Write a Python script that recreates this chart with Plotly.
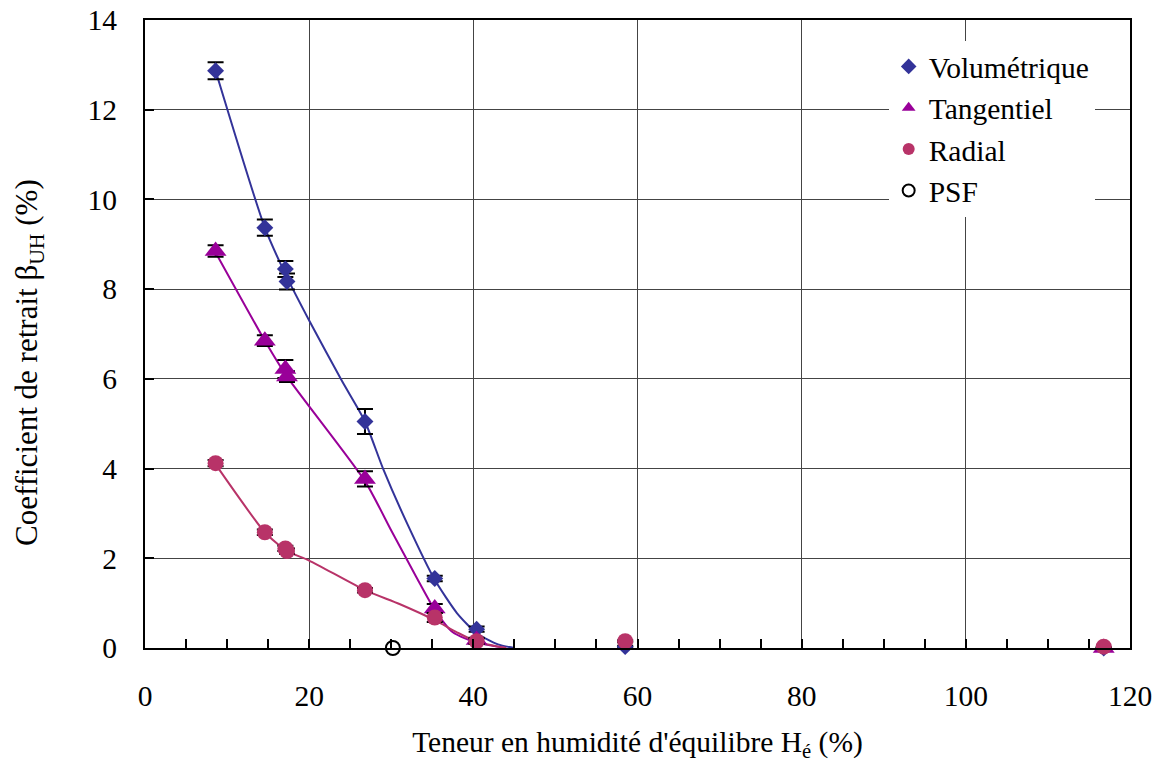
import plotly.graph_objects as go

# Teneur en humidité d'équilibre (%) des éprouvettes
h_eq = [8.6, 14.6, 17.1, 17.3, 26.8, 35.3, 40.4, 58.5, 116.8]

# Coefficients de retrait mesurés (%) et écarts-types
vol = [12.87, 9.37, 8.45, 8.17, 5.05, 1.55, 0.42, 0.03, 0.0]
vol_err = [0.19, 0.18, 0.18, 0.18, 0.28, 0.06, 0.06, 0.02, 0.0]

tan = [8.85, 6.85, 6.22, 6.05, 3.77, 0.88, 0.18, None, 0.0]
tan_err = [0.13, 0.12, 0.2, 0.12, 0.17, 0.1, 0.05, 0.0, 0.0]

rad = [4.12, 2.58, 2.22, 2.16, 1.29, 0.68, 0.15, 0.15, 0.03]
rad_err = [0.07, 0.06, 0.06, 0.06, 0.05, 0.1, 0.06, 0.02, 0.0]

# Point de saturation des fibres
psf_x = [30.2]
psf_y = [0.0]

# Courbes d'ajustement (noeuds)
vol_fit_x = [8.6, 14.6, 17.2, 20.0, 24.0, 26.8, 29.0, 32.0, 35.3, 38.0, 40.4, 43.0, 45.0]
vol_fit_y = [12.87, 9.37, 8.3, 7.3, 5.95, 5.05, 4.0, 2.75, 1.52, 0.78, 0.33, 0.08, 0.0]

tan_fit_x = [8.5, 14.6, 17.3, 26.8, 30.0, 33.0, 35.3, 37.5, 40.4, 44.0]
tan_fit_y = [8.85, 6.85, 6.05, 3.72, 2.62, 1.6, 0.85, 0.35, 0.12, 0.0]

rad_fit_x = [8.5, 14.6, 17.2, 20.0, 26.8, 31.0, 35.3, 38.0, 40.4, 44.0]
rad_fit_y = [4.12, 2.58, 2.17, 1.95, 1.29, 0.98, 0.62, 0.35, 0.14, 0.0]

C_VOL = "#333399"
C_TAN = "#990099"
C_RAD = "#b83368"
FONT = "'Times New Roman', 'Liberation Serif', serif"
FS = 29.5

fig = go.Figure()

for fx, fy, col in [(vol_fit_x, vol_fit_y, C_VOL),
                    (tan_fit_x, tan_fit_y, C_TAN),
                    (rad_fit_x, rad_fit_y, C_RAD)]:
    fig.add_trace(go.Scatter(
        x=fx, y=fy, mode="lines", showlegend=False, hoverinfo="skip",
        line=dict(color=col, width=2, shape="spline", smoothing=0.6),
    ))

series = [
    ("Volumétrique", vol, vol_err, "diamond", C_VOL, 13),
    ("Tangentiel", tan, tan_err, "triangle-up", C_TAN, 19),
    ("Radial", rad, rad_err, "circle", C_RAD, 16),
]
for name, ys, errs, sym, col, sz in series:
    fig.add_trace(go.Scatter(
        x=h_eq, y=ys, mode="markers", name=name, cliponaxis=False,
        marker=dict(symbol=sym, size=sz, color=col, line=dict(width=0)),
        error_y=dict(type="data", array=errs, visible=True,
                     color="black", thickness=2, width=8),
    ))

fig.add_trace(go.Scatter(
    x=psf_x, y=psf_y, mode="markers", name="PSF", cliponaxis=False,
    marker=dict(symbol="circle", size=14, color="white",
                line=dict(color="black", width=2)),
))

fig.update_layout(
    width=1166, height=772,
    margin=dict(l=145, r=36, t=20, b=124),
    paper_bgcolor="white", plot_bgcolor="white",
    font=dict(family=FONT, size=FS, color="black"),
    legend=dict(
        x=0.755, y=0.967, xanchor="left", yanchor="top",
        bgcolor="white", borderwidth=0,
        font=dict(family=FONT, size=FS, color="black"),
        itemsizing="constant",
    ),
    annotations=[dict(
        text="Coefficient de retrait β<sub>UH</sub> (%)",
        xref="paper", yref="paper", x=-0.117, y=0.455,
        xanchor="center", yanchor="middle", textangle=-90,
        showarrow=False, font=dict(family=FONT, size=31, color="black"),
    )],
)

fig.update_xaxes(
    range=[0, 120], tickvals=[0, 20, 40, 60, 80, 100, 120],
    showgrid=True, gridcolor="#444444", gridwidth=1,
    showline=True, linecolor="black", linewidth=2, mirror=True,
    ticks="inside", ticklen=9, tickcolor="black", tickwidth=1.5,
    minor=dict(dtick=5, ticks="inside", ticklen=9, tickcolor="black",
               tickwidth=1.5, showgrid=False),
    ticklabelstandoff=21, zeroline=False, automargin=False,
    tickfont=dict(family=FONT, size=FS),
    title=dict(text="Teneur en humidité d'équilibre H<sub>é</sub> (%)",
               font=dict(family=FONT, size=FS), standoff=20),
)
fig.update_yaxes(
    range=[0, 14], tickvals=[0, 2, 4, 6, 8, 10, 12, 14],
    showgrid=True, gridcolor="#444444", gridwidth=1,
    showline=True, linecolor="black", linewidth=2, mirror=True,
    ticks="inside", ticklen=9, tickcolor="black", tickwidth=1.5,
    ticklabelstandoff=20, zeroline=False, automargin=False,
    tickfont=dict(family=FONT, size=FS),
)

fig.write_html("out.html")
